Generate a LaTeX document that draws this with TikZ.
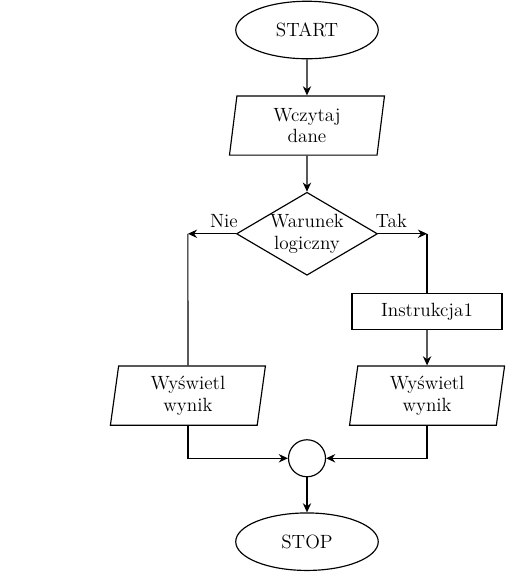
\documentclass[tikz,border=0pt]{standalone}
\usetikzlibrary{arrows.meta,positioning,calc,shapes.geometric}

\begin{document}
\begin{tikzpicture}[
  font=\fontsize{11.5pt}{13pt}\selectfont,
  line width=0.7pt,
  term/.style={draw, ellipse, minimum width=85.5pt, minimum height=34.5pt},
  io/.style={draw, trapezium, trapezium left angle=79, trapezium right angle=101, trapezium stretches body, minimum width=93pt, minimum height=35.5pt, align=center, inner sep=1pt},
  box/.style={draw, minimum width=90pt, minimum height=21.5pt, align=center},
  cond/.style={draw, diamond, aspect=1.7, inner sep=0pt, minimum width=84.6pt, minimum height=49.8pt, align=center},
  merge/.style={draw, circle, minimum size=22.2pt, inner sep=0pt},
  arr/.style={-{Stealth[length=5.5pt, width=5pt]}}
]
\useasboundingbox (-184.2pt,18pt) rectangle (127.8pt,-331.2pt);

\node[term] (start) at (0,0) {START};
\node[io, below=21.6pt of start] (read) {Wczytaj\\dane};
\node[cond, below=21.6pt of read] (test) {Warunek\\logiczny};

\coordinate[left=28.8pt of test.west] (nie);
\coordinate[right=29.4pt of test.east] (tak);

\node[box, below=35.5pt of tak] (instr) {Instrukcja1};
\node[io, below=21.3pt of instr] (outR) {Wyświetl\\wynik};
\node[io] (outL) at (nie |- outR) {Wyświetl\\wynik};

\node[merge] (merge) at ($(test |- outR.south)+(0,-19.5pt)$) {};
\node[term, below=21pt of merge] (stop) {STOP};

\draw[arr] (start) -- (read);
\draw[arr] (read) -- (test);
\draw[arr] (test.west) -- node[above, pos=0.25] {Nie} (nie);
\draw[arr] (test.east) -- node[above, pos=0.27] {Tak} (tak);
\draw (nie) -- (outL);
\draw (tak) -- (instr);
\draw[arr] (instr) -- (outR);
\draw[arr] (outL) |- (merge);
\draw[arr] (outR) |- (merge);
\draw[arr] (merge) -- (stop);
\end{tikzpicture}
\end{document}
